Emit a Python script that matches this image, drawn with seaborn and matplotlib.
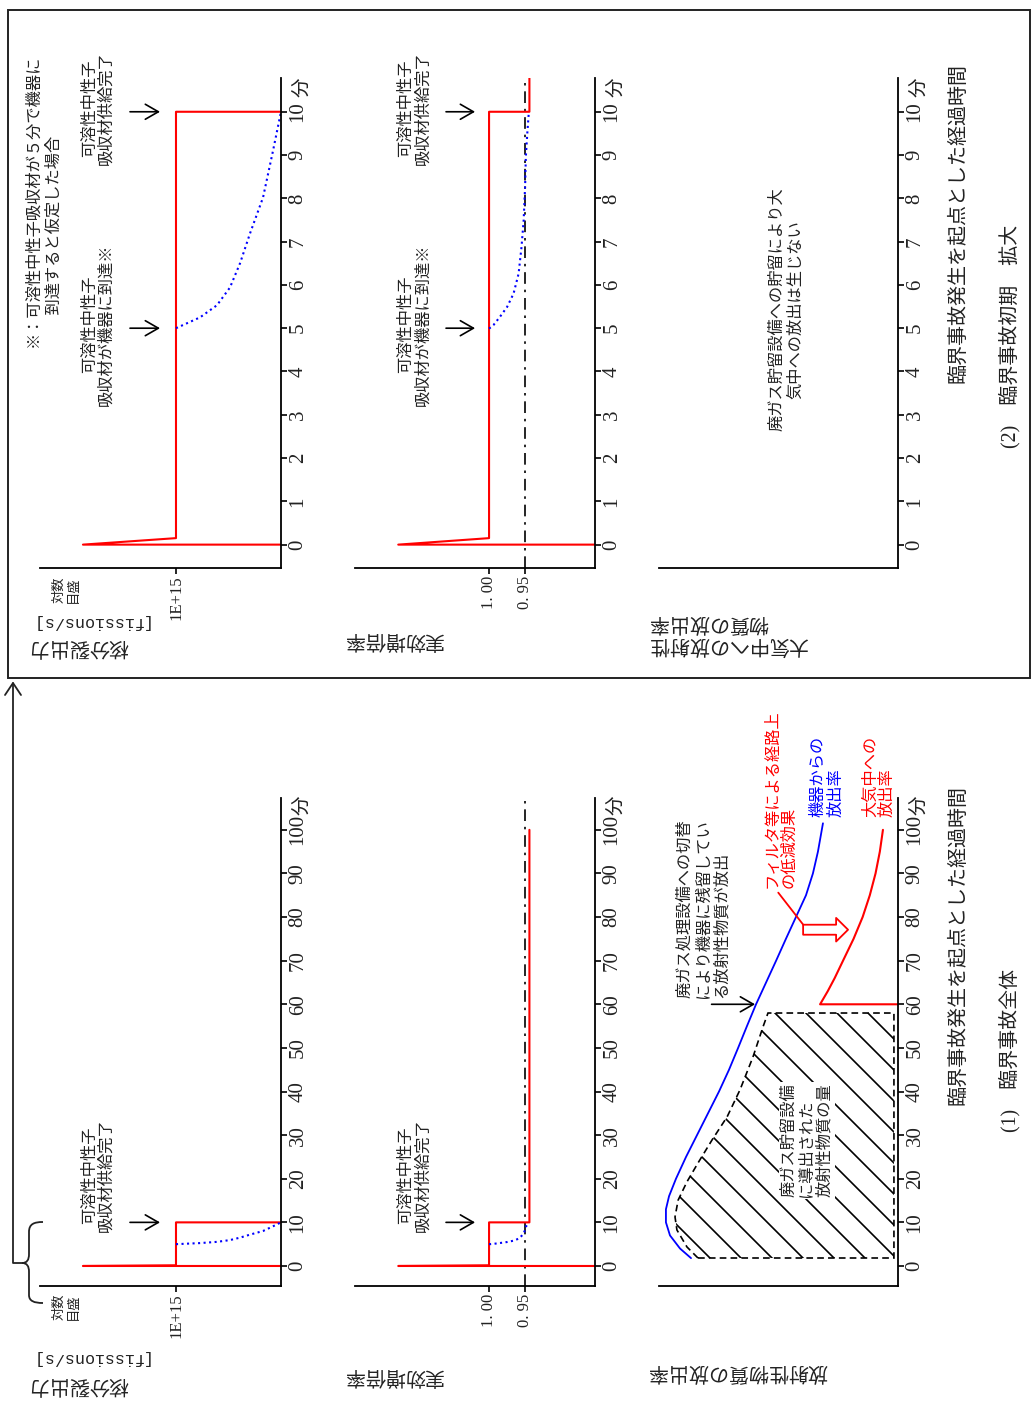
import numpy as np
import matplotlib
matplotlib.use('Agg')
import matplotlib.pyplot as plt
import seaborn as sns
import matplotlib.patches as mpatches
from matplotlib.path import Path
from matplotlib.lines import Line2D
from matplotlib.transforms import Affine2D, IdentityTransform

sns.set_theme(style='white')
plt.rcParams['font.family'] = ['Noto Sans CJK JP', 'DejaVu Sans']

# ---------------- data (schematic values) ----------------
# fission power, in units of 1E+15 fissions/s (axis is schematic)
power_t = [0, 0, 0.15, 10, 10]
power_v = [0, 1.886, 1.0, 1.0, 0]
power_dot_t = [5, 5.25, 5.53, 5.94, 6.5, 7.19, 8.02, 9.1, 10]
power_dot_v = [1.0, 0.771, 0.61, 0.486, 0.39, 0.295, 0.171, 0.076, 0.0]

# effective multiplication factor
keff_t = [0, 0, 0.15, 10, 10, 100]
keff_v = [0.853, 1.126, 1.00, 1.00, 0.944, 0.944]
keff_dot_t = [4.99, 5.07, 5.26, 5.49, 5.8, 6.26, 6.87, 7.49, 8.26, 8.95, 9.49, 9.95]
keff_dot_v = [1.0, 0.994, 0.985, 0.975, 0.966, 0.959, 0.955, 0.952, 0.950, 0.949, 0.947, 0.945]
keff_ref = 0.95

# release rates (relative units)
device_t = [1.8, 4, 7, 10, 13, 16, 20, 25, 30, 35, 40, 45, 50, 55, 60, 65, 70, 75, 80, 85, 90, 95, 101.5]
device_v = [0.866, 0.912, 0.954, 0.971, 0.971, 0.958, 0.929, 0.887, 0.841, 0.795, 0.749, 0.707,
            0.669, 0.632, 0.594, 0.552, 0.510, 0.469, 0.427, 0.385, 0.356, 0.335, 0.314]
atm_t = [60, 60, 63, 66, 70, 75, 80, 85, 90, 95, 100]
atm_v = [0, 0.326, 0.294, 0.265, 0.230, 0.186, 0.148, 0.118, 0.094, 0.076, 0.063]
stored_t = [1.83, 4.36, 8.26, 11.24, 15.1, 19.3, 23.6, 28.9, 34.2, 40.4, 47.9, 54.8, 58.0, 58.0, 1.83]
stored_v = [0.837, 0.883, 0.925, 0.933, 0.920, 0.883, 0.837, 0.778, 0.715, 0.661, 0.607, 0.565,
            0.544, 0.017, 0.017]

ticks_full = list(range(0, 101, 10))
ticks_zoom = list(range(0, 11))

# ---------------- layout ----------------
W, H, DPI = 1033, 1404, 100
fig = plt.figure(figsize=(W / DPI, H / DPI), dpi=DPI)
fig.patch.set_facecolor('white')
SERIF = 'Liberation Serif'
JP = 'Noto Sans CJK JP'
RED = '#ff0000'
BLUE = '#0000ff'
PX = Affine2D().scale(1 / W, -1 / H).translate(0, 1) + fig.transFigure


def px_axes(x0, y0, x1, y1):
    return fig.add_axes([x0 / W, 1 - y1 / H, (x1 - x0) / W, (y1 - y0) / H])


def setup(ax, vlim, tlim, tticks, vticks=(), vlabels=()):
    ax.set_xlim(vlim)
    ax.set_ylim(tlim)
    ax.set_facecolor('none')
    ax.grid(False)
    for s in ('top', 'left'):
        ax.spines[s].set_visible(False)
    for s in ('bottom', 'right'):
        ax.spines[s].set_visible(True)
        ax.spines[s].set_color('black')
        ax.spines[s].set_linewidth(1.3)
    ax.yaxis.tick_right()
    ax.set_yticks(tticks)
    ax.set_yticklabels([str(t) for t in tticks], rotation=90, va='center', ha='left',
                       fontfamily=SERIF, fontsize=15, color='#222222')
    ax.set_xticks(list(vticks))
    ax.set_xticklabels(list(vlabels), rotation=90, ha='center', va='top',
                       fontfamily=SERIF, fontsize=12, color='#222222')
    ax.tick_params(axis='y', which='both', right=True, left=False, direction='out',
                   length=4.5, width=1.2, pad=1, colors='black', labelcolor='#222222')
    ax.tick_params(axis='x', which='both', bottom=True, top=False, direction='out',
                   length=4.5, width=1.2, pad=1, colors='black', labelcolor='#222222')
    ax.set_xlabel('')
    ax.set_ylabel('')
    ax.annotate('分', xy=(1, tticks[-1]), xycoords=('axes fraction', 'data'),
                xytext=(15, 18), textcoords='offset points', rotation=90,
                ha='center', va='center', fontsize=14, fontfamily=JP, color='#222222')


def note(ax, v, t, s, ha='center', va='center', ma='center', color='#222222', size=11.7,
         ls=1.0, **kw):
    ax.text(v, t, s, rotation=90, ha=ha, va=va, multialignment=ma, color=color,
            fontsize=size, fontfamily=JP, linespacing=ls, **kw)


def arrow(ax, v_from, v_to, t):
    ax.annotate('', xy=(v_to, t), xytext=(v_from, t),
                arrowprops=dict(arrowstyle='->,head_length=0.47,head_width=0.27', lw=1.2,
                                color='black', shrinkA=0, shrinkB=0, mutation_scale=20))


def ptext(x, y, s, **kw):
    fig.text(x / W, 1 - y / H, s, **kw)


cols = {'A': (40, 281), 'B': (355, 595), 'C': (659, 898)}
rows = {'full': (798, 1286), 'zoom': (78, 568)}
tlims = {'full': (-4.59, 107.3), 'zoom': (-0.54, 10.78)}
tticks = {'full': ticks_full, 'zoom': ticks_zoom}
vlims = {'A': (2.295, 0), 'B': (1.186, 0.853), 'C': (1.0, 0)}

axes = {}
for key in ('full', 'zoom'):
    y0, y1 = rows[key]
    for c in 'ABC':
        ax = px_axes(cols[c][0], y0, cols[c][1], y1)
        if c == 'A':
            setup(ax, vlims[c], tlims[key], tticks[key], [1.0], ['1E+15'])
        elif c == 'B':
            setup(ax, vlims[c], tlims[key], tticks[key], [1.0, 0.95], ['1. 00', '0. 95'])
        else:
            setup(ax, vlims[c], tlims[key], tticks[key])
        axes[(key, c)] = ax

# ---- fission power / keff ----
for key in ('full', 'zoom'):
    ax = axes[(key, 'A')]
    sns.lineplot(x=power_v, y=power_t, sort=False, estimator=None, ax=ax, color=RED, lw=1.5)
    sns.lineplot(x=power_dot_v, y=power_dot_t, sort=False, estimator=None, ax=ax, color=BLUE,
                 lw=1.5, linestyle=':')
    ax.set_xlim(vlims['A']); ax.set_ylim(tlims[key])
    ax = axes[(key, 'B')]
    ax.axvline(keff_ref, color='black', lw=1.2, linestyle=(0, (7, 3.5, 1.5, 3.5)))
    sns.lineplot(x=keff_v, y=keff_t, sort=False, estimator=None, ax=ax, color=RED, lw=1.5)
    sns.lineplot(x=keff_dot_v, y=keff_dot_t, sort=False, estimator=None, ax=ax, color=BLUE,
                 lw=1.5, linestyle=':')
    ax.set_xlim(vlims['B']); ax.set_ylim(tlims[key])

# annotations in power / keff panels
aA, aB = axes[('full', 'A')], axes[('full', 'B')]
note(aA, 1.743, 20.9, '可溶性中性子\n吸収材供給完了')
arrow(aA, 1.438, 1.152, 10)
note(aB, 1.104, 20.9, '可溶性中性子\n吸収材供給完了')
arrow(aB, 1.0597, 1.0194, 10)
for ax, v_txt, v0, v1 in ((axes[('zoom', 'A')], 1.743, 1.438, 1.152),
                          (axes[('zoom', 'B')], 1.104, 1.0597, 1.0194)):
    note(ax, v_txt, 10.09, '可溶性中性子\n吸収材供給完了')
    note(ax, v_txt, 5.08, '可溶性中性子\n吸収材が機器に到達※')
    arrow(ax, v0, v1, 10)
    arrow(ax, v0, v1, 5)

# ---- release rates (full) ----
aC = axes[('full', 'C')]
poly = mpatches.Polygon(np.column_stack([stored_v, stored_t]), closed=True, fill=False,
                        ec='black', lw=1.2, ls=(0, (4, 2.5)), zorder=3)
aC.add_patch(poly)
sns.lineplot(x=device_v, y=device_t, sort=False, estimator=None, ax=aC, color=BLUE, lw=1.3)
sns.lineplot(x=atm_v, y=atm_t, sort=False, estimator=None, ax=aC, color=RED, lw=1.5)
aC.set_xlim(vlims['C']); aC.set_ylim(tlims['full'])

# manual diagonal hatching clipped to the stored region
pd_ = aC.transData.transform(np.column_stack([stored_v, stored_t]))
sx = pd_[:, 0] + pd_[:, 1]
xmin, xmax = pd_[:, 0].min() - 5, pd_[:, 0].max() + 5
for cval in np.arange(sx.min() + 12, sx.max(), 31):
    ln = Line2D([xmin, xmax], [cval - xmin, cval - xmax], color='black', lw=1.2)
    ln.set_transform(IdentityTransform())
    ln.set_clip_path(poly)
    ln.set_zorder(2)
    aC.add_artist(ln)

note(aC, 0.381, 15.8, '廃ガス貯留設備\nに導出された\n放射性物質の量', va='bottom', ma='left',
     ls=1.08, zorder=5, bbox=dict(fc='white', ec='none', pad=1.0))
note(aC, 0.816, 61.5, '廃ガス処理設備への切替\nにより機器に残留してい\nる放射性物質が放出',
     va='bottom', ma='left', ls=1.1)
arrow(aC, 0.78, 0.598, 60)
note(aC, 0.490, 86.7, 'フィルタ等による経路上\nの低減効果', va='bottom', ma='left', color=RED,
     ls=0.98)
aC.annotate('', xy=(0.393, 78.0), xytext=(0.501, 85.6),
            arrowprops=dict(arrowstyle='-', color=RED, lw=1.3, shrinkA=0, shrinkB=0))
aC.annotate('', xy=(0.209, 77.1), xytext=(0.397, 77.1),
            arrowprops=dict(arrowstyle='simple,head_length=0.43,head_width=0.85,tail_width=0.36',
                            fc='white', ec=RED, lw=1.3, shrinkA=0, shrinkB=0,
                            mutation_scale=20))
note(aC, 0.297, 103, '機器からの\n放出率', va='bottom', ma='left', color=BLUE, ls=1.05)
note(aC, 0.0795, 103, '大気中への\n放出率', va='bottom', ma='left', color=RED, ls=0.98)

note(axes[('zoom', 'C')], 0.469, 5.44, '廃ガス貯留設備への貯留により大\n気中への放出は生じない',
     ls=1.15)

# ---------------- figure-level texts ----------------
for yb, ya in ((1385, 1358), (647, 621)):
    ptext(28, yb, '核分裂出力', rotation=180, ha='left', va='center', fontsize=14.4,
          fontfamily=JP, color='#222222')
    ptext(28, ya, '[fissions/s]', rotation=180, ha='left', va='center', fontsize=12,
          fontfamily='Liberation Mono', color='#222222')
for y in (1307, 590):
    ptext(66, y, '対数\n目盛', rotation=90, ha='center', va='center', fontsize=9.5,
          fontfamily=JP, linespacing=1.2, color='#222222')
ptext(343, 1376, '実効増倍率', rotation=180, ha='left', va='center', fontsize=14.4,
      fontfamily=JP, color='#222222')
ptext(343, 640, '実効増倍率', rotation=180, ha='left', va='center', fontsize=14.4,
      fontfamily=JP, color='#222222')
ptext(648, 1372, '放射性物質の放出率', rotation=180, ha='left', va='center', fontsize=14.4,
      fontfamily=JP, color='#222222')
ptext(648, 634, '大気中への放射性\n物質の放出率', rotation=180, ha='left', va='center',
      fontsize=14.4, fontfamily=JP, multialignment='right', linespacing=1.05, color='#222222')

ptext(43.5, 347, '※：可溶性中性子吸収材が５分で機器に\n　　到達すると仮定した場合', rotation=90,
      ha='center', va='bottom', multialignment='left', fontsize=11.7, fontfamily=JP,
      linespacing=1.3, color='#222222')

for yb in (1105, 383):
    ptext(958, yb, '臨界事故発生を起点とした経過時間', rotation=90, ha='center', va='bottom',
          fontsize=14.4, fontfamily=JP, color='#222222')
ptext(1010, 1132, '(1)　臨界事故全体', rotation=90, ha='center', va='bottom', fontsize=14.4,
      fontfamily=[SERIF, JP], color='#222222')
ptext(1010, 448, '(2)　臨界事故初期　拡大', rotation=90, ha='center', va='bottom', fontsize=14.4,
      fontfamily=[SERIF, JP], color='#222222')

# ---------------- frame, brace and arrow ----------------
fig.add_artist(mpatches.Rectangle((8, 10), 1022, 668, transform=PX, fill=False, ec='#222222',
                                  lw=1.4))
brace = Path([(43, 1222), (34, 1222), (29, 1224), (29, 1232), (29, 1254),
              (29, 1260), (27, 1263), (22, 1263),
              (27, 1263), (29, 1266), (29, 1272), (29, 1295),
              (29, 1301), (34, 1303), (43, 1303)],
             [Path.MOVETO, Path.CURVE4, Path.CURVE4, Path.CURVE4, Path.LINETO,
              Path.CURVE4, Path.CURVE4, Path.CURVE4,
              Path.CURVE4, Path.CURVE4, Path.CURVE4, Path.LINETO,
              Path.CURVE4, Path.CURVE4, Path.CURVE4])
fig.add_artist(mpatches.PathPatch(brace, transform=PX, fill=False, ec='#222222', lw=1.3))
fig.add_artist(Line2D([22, 13, 13], [1263, 1263, 683], transform=PX, color='#222222', lw=1.3))
fig.add_artist(Line2D([5, 13, 21], [695, 683, 695], transform=PX, color='#222222', lw=1.3))

fig.savefig('out.png', dpi=DPI, facecolor='white')
